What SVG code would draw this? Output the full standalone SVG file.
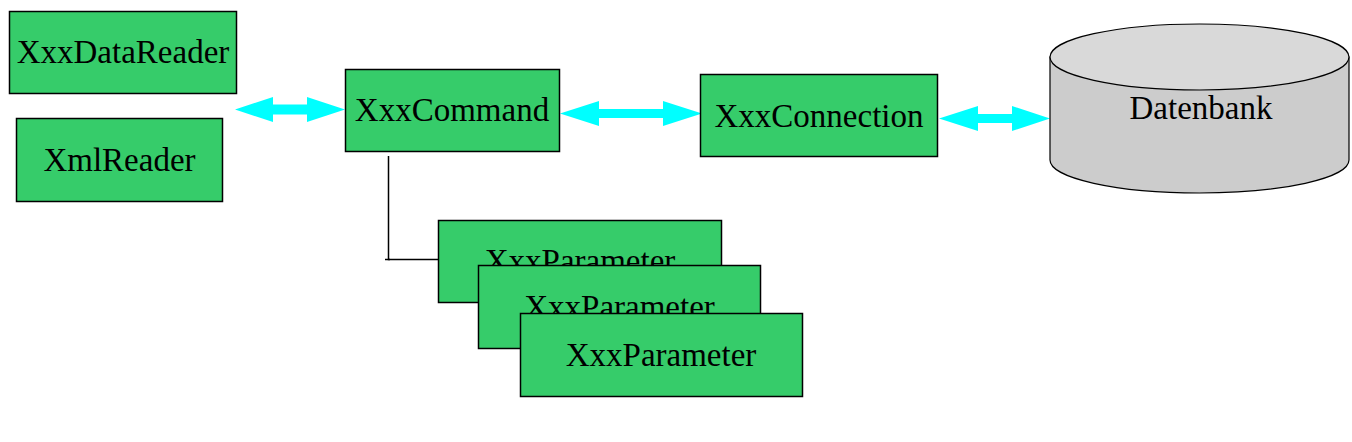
<svg xmlns="http://www.w3.org/2000/svg" width="1352" height="442" viewBox="0 0 1352 442">
<style>
.box{fill:#36cc6a;stroke:#000;stroke-width:1.5}
.lbl{font-family:"Liberation Serif","Times New Roman",serif;font-size:33px;fill:#000;text-anchor:middle}
.arr{fill:#00ffff;stroke:none}
.ln{stroke:#000;stroke-width:1.5;fill:none}
</style>
<rect width="1352" height="442" fill="#fff"/>
<g id="connectors">
<polygon class="arr" points="235,109.5 273,97 273,104.5 307,104.5 307,97 345,109.5 307,122 307,114.5 273,114.5 273,122"/>
<polygon class="arr" points="560,113.5 599,101 599,109 663,109 663,101 702,113.5 663,126 663,118 599,118 599,126"/>
<polygon class="arr" points="939,118.5 978,106 978,114 1012,114 1012,106 1050,118.5 1012,131 1012,123 978,123 978,131"/>
<polyline class="ln" points="388.5,156 388.5,259.5 438,259.5"/>
<line class="ln" x1="385" y1="259.5" x2="390" y2="259.5"/>
</g>
<g id="XxxDataReader">
<rect class="box" x="9.5" y="11.5" width="227" height="82"/>
<text class="lbl" x="123" y="63">XxxDataReader</text>
</g>
<g id="XmlReader">
<rect class="box" x="16.5" y="118.5" width="206" height="83"/>
<text class="lbl" x="119.5" y="171">XmlReader</text>
</g>
<g id="XxxCommand">
<rect class="box" x="345.5" y="69.5" width="214" height="82"/>
<text class="lbl" x="452" y="121">XxxCommand</text>
</g>
<g id="XxxConnection">
<rect class="box" x="700.5" y="74.5" width="237" height="82"/>
<text class="lbl" x="819" y="126.5">XxxConnection</text>
</g>
<g id="Datenbank">
<path d="M1050,57 L1050,160 A149.5,33 0 0 0 1349,160 L1349,57 Z" fill="#cccccc" stroke="#000" stroke-width="1.2"/>
<ellipse cx="1199.5" cy="57" rx="149.5" ry="33" fill="#d9d9d9" stroke="#000" stroke-width="1.2"/>
<text class="lbl" x="1201" y="119">Datenbank</text>
</g>
<g id="XxxParameter1">
<rect class="box" x="438.5" y="220.5" width="283" height="82"/>
<text class="lbl" x="580" y="272">XxxParameter</text>
</g>
<g id="XxxParameter2">
<rect class="box" x="478.5" y="265.5" width="282" height="83"/>
<text class="lbl" x="619.5" y="318">XxxParameter</text>
</g>
<g id="XxxParameter3">
<rect class="box" x="520.5" y="313.5" width="282" height="83"/>
<text class="lbl" x="661" y="366">XxxParameter</text>
</g>
</svg>
